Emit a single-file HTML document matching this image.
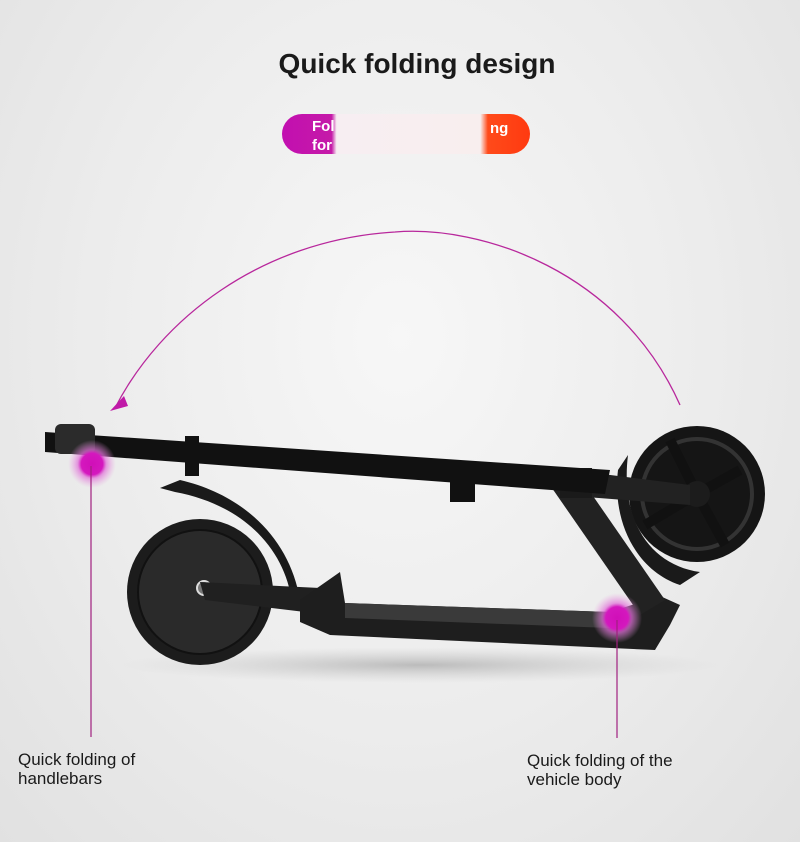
<!DOCTYPE html>
<html><head><meta charset="utf-8"><style>
html,body{margin:0;padding:0;width:800px;height:842px;overflow:hidden}
body{background:radial-gradient(ellipse at 50% 40%,#f7f7f7 0%,#ececec 55%,#e1e1e1 100%);font-family:"Liberation Sans",sans-serif}
</style></head><body>
<svg width="800" height="842" viewBox="0 0 800 842" xmlns="http://www.w3.org/2000/svg" style="position:absolute;left:0;top:0">
<defs>
<linearGradient id="pill" x1="0" x2="1" y1="0" y2="0">
<stop offset="0" stop-color="#c20fb0"/><stop offset="0.2" stop-color="#c51aa8"/><stop offset="0.22" stop-color="#f7eef2"/><stop offset="0.8" stop-color="#f8eeee"/><stop offset="0.83" stop-color="#ff4a1a"/><stop offset="1" stop-color="#ff3a10"/>
</linearGradient>
<radialGradient id="glow"><stop offset="0" stop-color="#d00fb8"/><stop offset="0.45" stop-color="#d418be"/><stop offset="0.6" stop-color="#e070d8" stop-opacity="0.7"/><stop offset="1" stop-color="#e8a0e0" stop-opacity="0"/></radialGradient>
<radialGradient id="shadow"><stop offset="0" stop-color="#999" stop-opacity="0.6"/><stop offset="1" stop-color="#bbb" stop-opacity="0"/></radialGradient>
</defs>
<text x="417" y="73" text-anchor="middle" font-size="28" font-weight="bold" fill="#1a1a1a">Quick folding design</text>
<rect x="282" y="114" width="248" height="40" rx="20" fill="url(#pill)"/>
<text x="312" y="131" font-size="15" font-weight="bold" fill="#fff">Fol</text>
<text x="312" y="150" font-size="15" font-weight="bold" fill="#fff">for</text>
<text x="490" y="133" font-size="15" font-weight="bold" fill="#fff">ng</text>
<path d="M680 405 C620 270 480 225 395 232 C260 240 160 320 115 408" fill="none" stroke="#b8279c" stroke-width="1.3"/>
<polygon points="110,411 124,396 128,406" fill="#c01aa8"/>
<ellipse cx="420" cy="665" rx="300" ry="18" fill="url(#shadow)"/>
<circle cx="200" cy="592" r="73" fill="#1c1c1c"/>
<circle cx="200" cy="592" r="62" fill="#2a2a2a" stroke="#111" stroke-width="2"/>
<circle cx="204" cy="588" r="7" fill="#777" stroke="#ddd" stroke-width="2"/>
<path d="M160 488 L180 480 C245 495 290 540 300 600 L292 602 C285 550 245 505 175 492 Z" fill="#1a1a1a"/>
<polygon points="200,582 320,588 330,615 205,600" fill="#202020"/>
<polygon points="300,600 340,572 345,603 610,612 660,596 680,605 670,625 655,650 330,635 300,622" fill="#1e1e1e"/>
<polygon points="345,603 610,612 610,628 345,618" fill="#3a3a3a"/>
<polygon points="545,478 575,470 665,600 640,615" fill="#222"/>
<circle cx="697" cy="494" r="68" fill="#151515"/>
<circle cx="697" cy="494" r="55" fill="none" stroke="#333" stroke-width="4"/>
<g stroke="#111" stroke-width="10"><line x1="697" y1="494" x2="670" y2="440"/><line x1="697" y1="494" x2="740" y2="470"/><line x1="697" y1="494" x2="725" y2="545"/><line x1="697" y1="494" x2="645" y2="525"/></g>
<circle cx="697" cy="494" r="13" fill="#1c1c1c"/>
<path d="M618 470 L628 455 C620 520 650 565 700 572 L680 585 C635 570 612 520 618 470 Z" fill="#1a1a1a"/>
<polygon points="555,468 690,485 690,505 560,495" fill="#222"/>
<rect x="560" y="468" width="32" height="30" fill="#1a1a1a"/>
<polygon points="45,432 610,470 605,494 45,452" fill="#111"/>
<rect x="450" y="467" width="25" height="35" fill="#111"/>
<rect x="185" y="436" width="14" height="40" fill="#111"/>
<rect x="55" y="424" width="40" height="30" rx="6" fill="#2b2b2b"/>
<circle cx="92" cy="464" r="24" fill="url(#glow)"/>
<circle cx="617" cy="618" r="25" fill="url(#glow)"/>
<line x1="91" y1="466" x2="91" y2="737" stroke="#a0207f" stroke-width="1.2"/>
<line x1="617" y1="620" x2="617" y2="738" stroke="#a0207f" stroke-width="1.2"/>
<g font-size="17" fill="#1a1a1a">
<text x="18" y="765">Quick folding of</text>
<text x="18" y="784">handlebars</text>
<text x="527" y="766">Quick folding of the</text>
<text x="527" y="785">vehicle body</text>
</g>
</svg>
</body></html>
